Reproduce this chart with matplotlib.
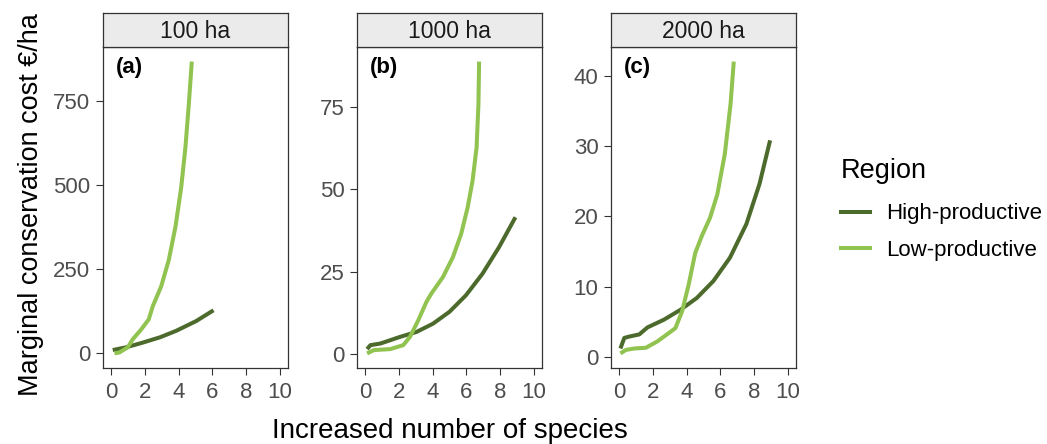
import matplotlib.pyplot as plt
from matplotlib.lines import Line2D

plt.rcParams["font.family"] = ["Liberation Sans", "DejaVu Sans"]

PANELS = ["100 ha", "1000 ha", "2000 ha"]
PANEL_TAGS = ["(a)", "(b)", "(c)"]
REGIONS = ["High-productive", "Low-productive"]
COLORS = {"High-productive": "#4c6a2b", "Low-productive": "#91c350"}

# 100 ha
high_100_x = [0.08, 0.87, 1.86, 2.9, 3.85, 5.04, 6.07]
high_100_y = [10, 18, 32, 48, 67, 96, 128]
low_100_x = [0.18, 0.48, 0.97, 1.27, 1.77, 2.22, 2.46, 2.96, 3.41, 3.81, 4.15,
             4.4, 4.6, 4.78]
low_100_y = [0, 3, 18, 42, 71, 101, 140, 199, 277, 376, 493, 611, 738, 866]

# 1000 ha
high_1000_x = [0.1, 0.3, 0.9, 2.06, 3.04, 4.02, 5.0, 5.98, 6.96, 7.94, 8.92]
high_1000_y = [1.6, 2.8, 3.3, 5.3, 6.8, 9.3, 12.9, 17.9, 24.4, 32.4, 41.5]
low_1000_x = [0.1, 0.5, 1.47, 2.25, 2.65, 3.14, 3.63, 3.92, 4.61, 5.2, 5.69,
              6.08, 6.37, 6.61, 6.72, 6.76]
low_1000_y = [0.3, 1.3, 1.6, 2.8, 5.3, 10.3, 15.9, 18.4, 23.4, 29.4, 36.4,
              44.5, 52.5, 62.6, 75.6, 88.6]

# 2000 ha
high_2000_x = [0.06, 0.29, 0.59, 1.18, 1.67, 2.65, 3.63, 4.61, 5.59, 6.57,
               7.55, 8.33, 8.96]
high_2000_y = [1.2, 2.7, 2.9, 3.2, 4.2, 5.3, 6.7, 8.4, 10.8, 14.1, 18.9,
               24.6, 30.8]
low_2000_x = [0.06, 0.39, 0.88, 1.57, 2.25, 2.94, 3.33, 3.73, 4.12, 4.51, 4.9,
              5.39, 5.82, 6.27, 6.61, 6.8]
low_2000_y = [0.5, 1.0, 1.2, 1.3, 2.2, 3.4, 4.1, 6.5, 10.3, 14.8, 17.2, 19.8,
              23.1, 28.9, 36.0, 42.0]

SERIES = [
    [(high_100_x, high_100_y), (low_100_x, low_100_y)],
    [(high_1000_x, high_1000_y), (low_1000_x, low_1000_y)],
    [(high_2000_x, high_2000_y), (low_2000_x, low_2000_y)],
]
YTICKS = [[0, 250, 500, 750], [0, 25, 50, 75], [0, 10, 20, 30, 40]]
XTICKS = [0, 2, 4, 6, 8, 10]

W, H = 1047, 444
fig = plt.figure(figsize=(W / 100, H / 100), dpi=100)

lefts = [103, 357, 611]
pw = 185
top, bottom = 47, 368
strip_top = 13

for i, left in enumerate(lefts):
    ax = fig.add_axes([left / W, 1 - bottom / H, pw / W, (bottom - top) / H])
    for region, (xs, ys) in zip(REGIONS, SERIES[i]):
        ax.plot(xs, ys, color=COLORS[region], lw=2.9, solid_capstyle="butt",
                solid_joinstyle="round")
    ax.set_xlim(-0.5, 10.5)
    ymax = max(max(SERIES[i][0][1]), max(SERIES[i][1][1]))
    ymin = min(min(SERIES[i][0][1]), min(SERIES[i][1][1]))
    pad = (ymax - ymin) * 0.05
    ax.set_ylim(ymin - pad, ymax + pad)
    ax.set_xticks(XTICKS)
    ax.set_yticks(YTICKS[i])
    ax.tick_params(labelsize=16, labelcolor="#4d4d4d", color="#333333",
                   length=5, width=0.8)
    ax.tick_params(axis="y", pad=4)
    ax.tick_params(axis="x", pad=5)
    for s in ax.spines.values():
        s.set_color("#333333")
        s.set_linewidth(0.9)
    ax.text(0.07, 0.935, PANEL_TAGS[i], transform=ax.transAxes, fontsize=16,
            fontweight="bold", ha="left", va="center")

    sax = fig.add_axes([left / W, 1 - top / H, pw / W, (top - strip_top) / H])
    sax.set_facecolor("#ebebeb")
    sax.set_xticks([])
    sax.set_yticks([])
    for s in sax.spines.values():
        s.set_color("#333333")
        s.set_linewidth(0.9)
    sax.text(0.5, 0.47, PANELS[i], ha="center", va="center", fontsize=16.5,
             color="#1a1a1a", transform=sax.transAxes)

fig.text(31 / W, 1 - 205 / H, "Marginal conservation cost €/ha", rotation=90,
         ha="center", va="center", fontsize=19.5)
fig.text(450 / W, 1 - 438 / H, "Increased number of species",
         ha="center", va="baseline", fontsize=20)

handles = [Line2D([], [], color=COLORS[r], lw=2.9) for r in REGIONS]
leg = fig.legend(handles, REGIONS, title="Region", loc="upper left",
                 bbox_to_anchor=(821 / W, 1 - 138 / H), frameon=False,
                 fontsize=16, title_fontsize=19.5, handlelength=1.3,
                 labelspacing=0.68, handletextpad=0.75)
leg._legend_box.align = "left"
leg._legend_box.sep = 14

fig.savefig("out.png", dpi=100)
